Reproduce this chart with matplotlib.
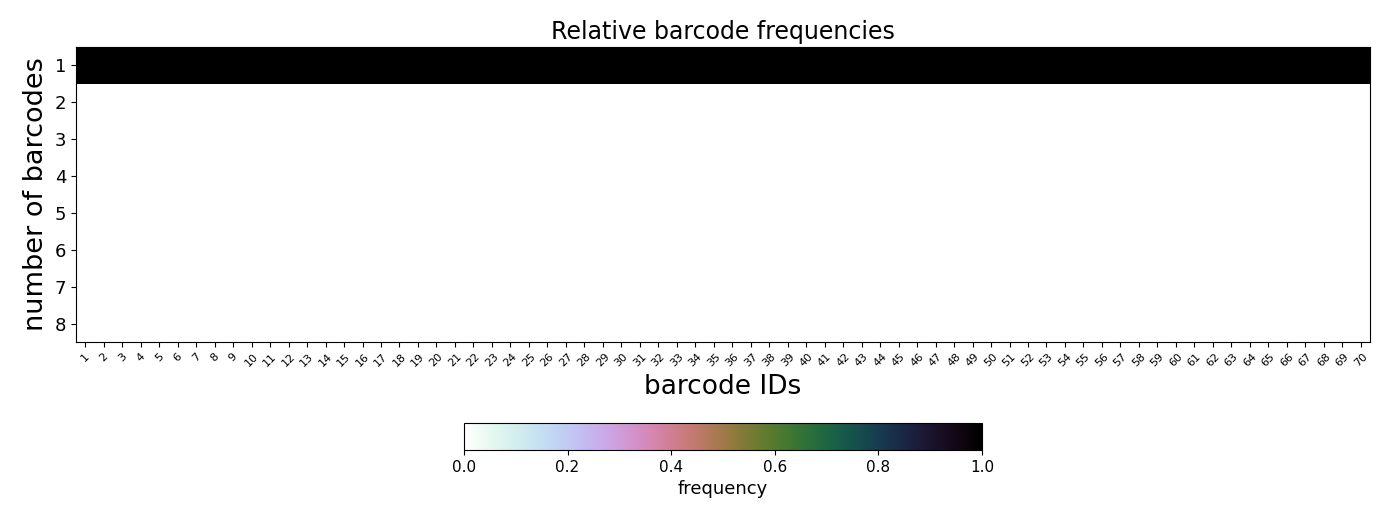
import numpy as np
import matplotlib
matplotlib.use('Agg')
import matplotlib.pyplot as plt

# 막대코드 ID와 막대코드 개수
barcode_ids = list(range(1, 71))
n_barcodes = list(range(1, 9))

# 각 행의 상대 빈도 (1번 행만 1.0)
freq_row1 = [1.0] * 70
freq_other = [0.0] * 70
freq_rows = [freq_row1] + [freq_other] * 7

data = np.array(freq_rows)

fig = plt.figure(figsize=(13.89, 5.19), dpi=100)
ax = fig.add_axes([0.0547, 0.341, 0.9316, 0.5684])

im = ax.imshow(data, cmap='cubehelix_r', vmin=0, vmax=1, aspect='auto',
               interpolation='nearest',
               extent=[0.5, len(barcode_ids) + 0.5, len(n_barcodes) + 0.5, 0.5])

ax.set_xticks(barcode_ids)
ax.set_xticklabels([str(b) for b in barcode_ids], rotation=45, fontsize=8)
ax.set_yticks(n_barcodes)
ax.set_yticklabels([str(n) for n in n_barcodes], fontsize=13)
ax.set_xlabel('barcode IDs', fontsize=19)
ax.set_ylabel('number of barcodes', fontsize=19.5)
ax.set_title('Relative barcode frequencies', fontsize=17)

cax = fig.add_axes([0.334, 0.133, 0.373, 0.052])
cb = fig.colorbar(im, cax=cax, orientation='horizontal')
cb.set_label('frequency', fontsize=13)
cb.ax.tick_params(labelsize=11)

plt.savefig('out.png', dpi=100)
